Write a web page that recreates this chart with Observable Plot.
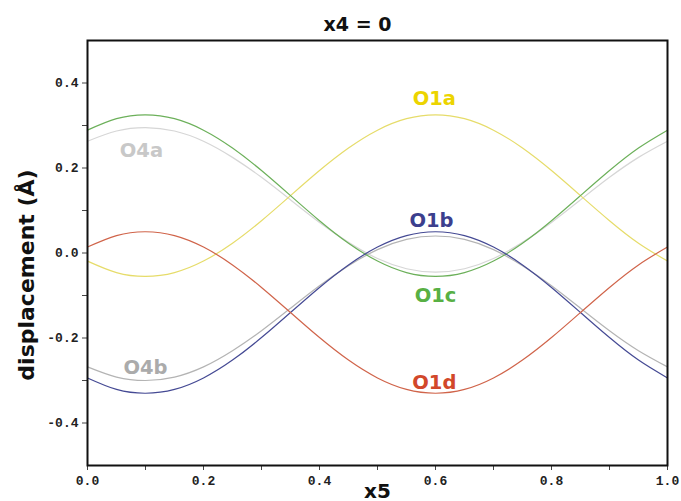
<!DOCTYPE html>
<html>
<head>
<meta charset="utf-8">
<script src="https://cdn.jsdelivr.net/npm/d3@7"></script>
<script src="https://cdn.jsdelivr.net/npm/@observablehq/plot@0.6"></script>
<style>
  html, body { margin: 0; padding: 0; background: white; }
</style>
</head>
<body>
<div id="chart"></div>
<script>
const x5 = [0, 0.05, 0.1, 0.15, 0.2, 0.25, 0.3, 0.35, 0.4, 0.45, 0.5, 0.55, 0.6, 0.65, 0.7, 0.75, 0.8, 0.85, 0.9, 0.95, 1.0];
const O1a = [-0.019,-0.046,-0.055,-0.046,-0.019,0.023,0.076,0.135,0.194,0.247,0.289,0.316,0.325,0.316,0.289,0.247,0.194,0.135,0.076,0.023,-0.019];
const O1c = [0.289,0.316,0.325,0.316,0.289,0.247,0.194,0.135,0.076,0.023,-0.019,-0.046,-0.055,-0.046,-0.019,0.023,0.076,0.135,0.194,0.247,0.289];
const O4a = [0.263,0.287,0.295,0.287,0.263,0.225,0.178,0.125,0.072,0.025,-0.013,-0.037,-0.045,-0.037,-0.013,0.025,0.072,0.125,0.178,0.225,0.263];
const O1b = [-0.294,-0.321,-0.330,-0.321,-0.294,-0.252,-0.199,-0.140,-0.081,-0.028,0.014,0.041,0.050,0.041,0.014,-0.028,-0.081,-0.140,-0.199,-0.252,-0.294];
const O4b = [-0.268,-0.292,-0.300,-0.292,-0.268,-0.230,-0.183,-0.130,-0.077,-0.030,0.008,0.032,0.040,0.032,0.008,-0.030,-0.077,-0.130,-0.183,-0.230,-0.268];
const O1d = [0.014,0.041,0.050,0.041,0.014,-0.028,-0.081,-0.140,-0.199,-0.252,-0.294,-0.321,-0.330,-0.321,-0.294,-0.252,-0.199,-0.140,-0.081,-0.028,0.014];

const seriesNames = ["O4a", "O4b", "O1a", "O1c", "O1b", "O1d"];
const seriesValues = {O1a, O1b, O1c, O1d, O4a, O4b};

// label anchor points (data coordinates)
const labelNames = ["O1a", "O4a", "O1b", "O1c", "O4b", "O1d"];
const labelX = [0.598, 0.093, 0.593, 0.600, 0.100, 0.598];
const labelY = [0.363, 0.240, 0.077, -0.101, -0.270, -0.306];

const xTicks = [0, 0.1, 0.2, 0.3, 0.4, 0.5, 0.6, 0.7, 0.8, 0.9, 1.0];
const yTicks = [-0.4, -0.3, -0.2, -0.1, 0, 0.1, 0.2, 0.3, 0.4];

const lineColors = {O1a: "#e6dc6a", O1b: "#454a94", O1c: "#6cb05a", O1d: "#d0644a", O4a: "#d6d6d6", O4b: "#b4b4b4"};
const labelColors = {O1a: "#ecd400", O1b: "#3c3f8e", O1c: "#58b044", O1d: "#d2482a", O4a: "#c8c8c8", O4b: "#ababab"};

const table = [];
seriesNames.forEach(name => {
  seriesValues[name].forEach((v, i) => table.push({series: name, x: x5[i], y: v}));
});
const labels = labelNames.map((name, i) => ({name, x: labelX[i], y: labelY[i]}));

const fmt = d => (Math.round(d * 10) % 2 === 0 ? d.toFixed(1) : "");

const chart = Plot.plot({
  width: 681,
  height: 501,
  marginLeft: 87,
  marginRight: 14,
  marginTop: 40,
  marginBottom: 36,
  x: {domain: [0, 1]},
  y: {domain: [-0.5, 0.5]},
  color: {domain: seriesNames, range: seriesNames.map(n => lineColors[n])},
  style: {background: "white", fontFamily: "Liberation Mono", color: "#222"},
  marks: [
    Plot.axisY({ticks: yTicks, tickFormat: fmt, tickSize: 5, tickPadding: 4, fontSize: 13, fontWeight: "bold", label: null, stroke: "#444"}),
    Plot.axisX({ticks: xTicks, tickFormat: fmt, tickSize: 5, tickPadding: 5, fontSize: 13, fontWeight: "bold", label: null, stroke: "#444"}),
    Plot.line(table, {x: "x", y: "y", z: "series", stroke: "series", curve: "natural", strokeWidth: 1.2}),
    ...labels.map(l => Plot.text([l], {x: "x", y: "y", text: "name", fill: labelColors[l.name], fontFamily: "DejaVu Sans", fontWeight: "bold", fontSize: 19.5})),
    Plot.frame({stroke: "#111", strokeWidth: 2}),
    Plot.text(["x4 = 0"], {text: d => d, frameAnchor: "top", dx: -20, dy: -23, fontFamily: "DejaVu Sans", fontWeight: "bold", fontSize: 19, fill: "#111"}),
    Plot.text(["x5"], {text: d => d, frameAnchor: "bottom", dy: 32, fontFamily: "DejaVu Sans", fontWeight: "bold", fontSize: 20, fill: "#111"}),
    Plot.text(["displacement (Å)"], {text: d => d, frameAnchor: "left", textAnchor: "middle", rotate: -90, dx: -61, dy: 22, fontFamily: "DejaVu Sans", fontWeight: "bold", fontSize: 22, fill: "#111"})
  ]
});
document.getElementById("chart").appendChild(chart);
</script>
</body>
</html>
